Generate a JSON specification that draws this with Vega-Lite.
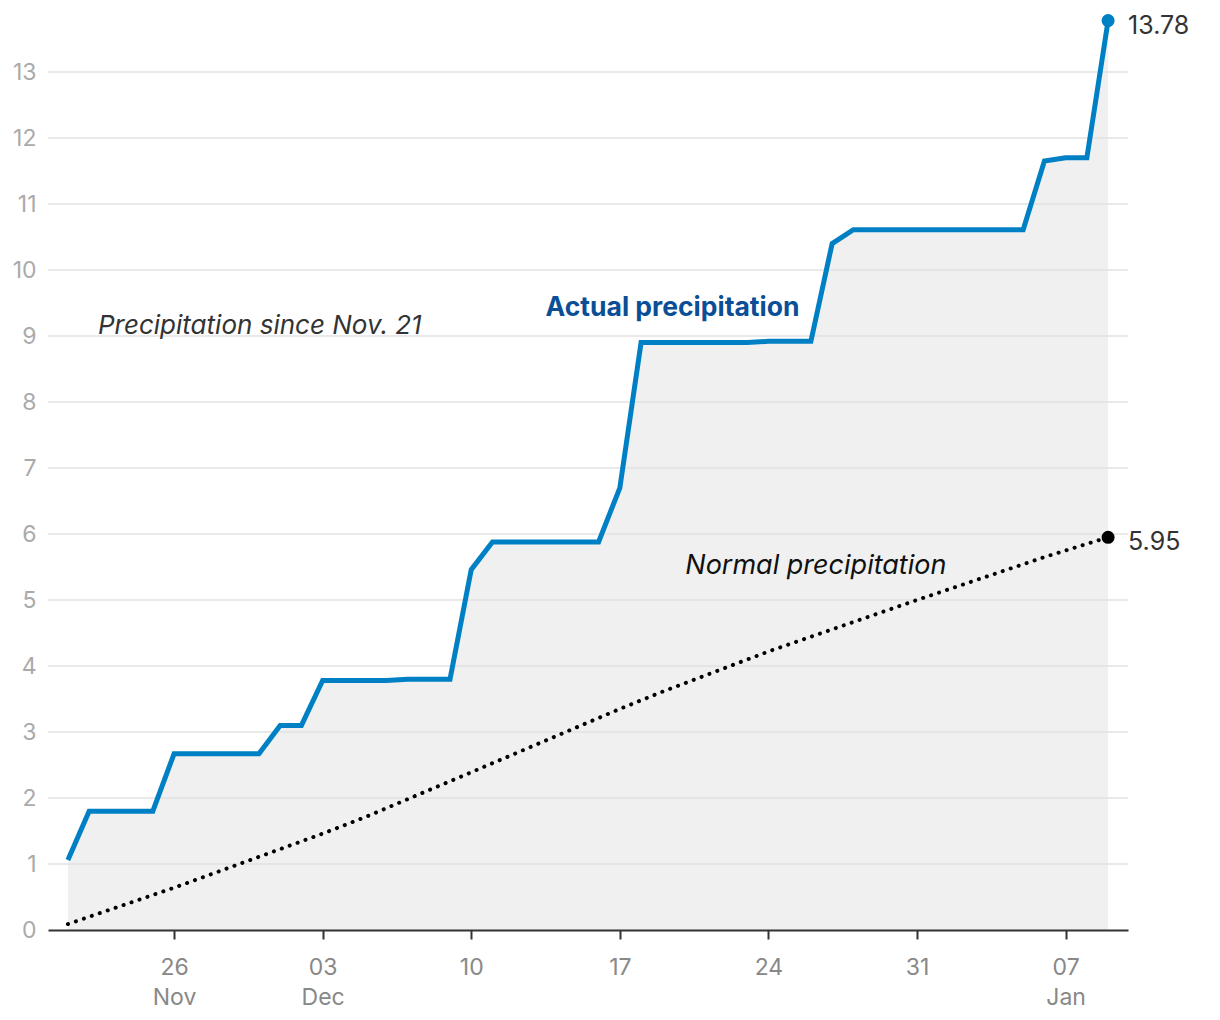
{
  "$schema": "https://vega.github.io/schema/vega-lite/v6.json",
  "width": 1080,
  "height": 924,
  "autosize": {"type": "none"},
  "padding": {"left": 48, "top": 6, "right": 92, "bottom": 90},
  "background": "#ffffff",
  "config": {
    "view": {"stroke": null},
    "font": "Inter",
    "axis": {"labelFont": "Inter", "grid": false}
  },
  "datasets": {
    "actual": [
      {"date": "2022-11-21", "value": 1.06},
      {"date": "2022-11-22", "value": 1.80},
      {"date": "2022-11-23", "value": 1.80},
      {"date": "2022-11-24", "value": 1.80},
      {"date": "2022-11-25", "value": 1.80},
      {"date": "2022-11-26", "value": 2.67},
      {"date": "2022-11-27", "value": 2.67},
      {"date": "2022-11-28", "value": 2.67},
      {"date": "2022-11-29", "value": 2.67},
      {"date": "2022-11-30", "value": 2.67},
      {"date": "2022-12-01", "value": 3.10},
      {"date": "2022-12-02", "value": 3.10},
      {"date": "2022-12-03", "value": 3.78},
      {"date": "2022-12-04", "value": 3.78},
      {"date": "2022-12-05", "value": 3.78},
      {"date": "2022-12-06", "value": 3.78},
      {"date": "2022-12-07", "value": 3.80},
      {"date": "2022-12-08", "value": 3.80},
      {"date": "2022-12-09", "value": 3.80},
      {"date": "2022-12-10", "value": 5.46},
      {"date": "2022-12-11", "value": 5.88},
      {"date": "2022-12-12", "value": 5.88},
      {"date": "2022-12-13", "value": 5.88},
      {"date": "2022-12-14", "value": 5.88},
      {"date": "2022-12-15", "value": 5.88},
      {"date": "2022-12-16", "value": 5.88},
      {"date": "2022-12-17", "value": 6.70},
      {"date": "2022-12-18", "value": 8.90},
      {"date": "2022-12-19", "value": 8.90},
      {"date": "2022-12-20", "value": 8.90},
      {"date": "2022-12-21", "value": 8.90},
      {"date": "2022-12-22", "value": 8.90},
      {"date": "2022-12-23", "value": 8.90},
      {"date": "2022-12-24", "value": 8.92},
      {"date": "2022-12-25", "value": 8.92},
      {"date": "2022-12-26", "value": 8.92},
      {"date": "2022-12-27", "value": 10.40},
      {"date": "2022-12-28", "value": 10.61},
      {"date": "2022-12-29", "value": 10.61},
      {"date": "2022-12-30", "value": 10.61},
      {"date": "2022-12-31", "value": 10.61},
      {"date": "2023-01-01", "value": 10.61},
      {"date": "2023-01-02", "value": 10.61},
      {"date": "2023-01-03", "value": 10.61},
      {"date": "2023-01-04", "value": 10.61},
      {"date": "2023-01-05", "value": 10.61},
      {"date": "2023-01-06", "value": 11.65},
      {"date": "2023-01-07", "value": 11.70},
      {"date": "2023-01-08", "value": 11.70},
      {"date": "2023-01-09", "value": 13.78}
    ],
    "normal": [
      {"date": "2022-11-21", "value": 0.09},
      {"date": "2022-11-26", "value": 0.64},
      {"date": "2022-12-03", "value": 1.46},
      {"date": "2022-12-05", "value": 1.71},
      {"date": "2022-12-10", "value": 2.39},
      {"date": "2022-12-17", "value": 3.35},
      {"date": "2022-12-19", "value": 3.61},
      {"date": "2022-12-24", "value": 4.22},
      {"date": "2022-12-31", "value": 5.00},
      {"date": "2023-01-06", "value": 5.65},
      {"date": "2023-01-07", "value": 5.75},
      {"date": "2023-01-09", "value": 5.95}
    ],
    "grid": [
      {"v": 1}, {"v": 2}, {"v": 3}, {"v": 4}, {"v": 5}, {"v": 6}, {"v": 7},
      {"v": 8}, {"v": 9}, {"v": 10}, {"v": 11}, {"v": 12}, {"v": 13}
    ],
    "endActual": [
      {"date": "2023-01-09", "value": 13.78, "label": "13.78"}
    ],
    "endNormal": [
      {"date": "2023-01-09", "value": 5.95, "label": "5.95"}
    ],
    "caption": [
      {"date": "2022-11-22T10:00:00Z", "value": 9.15, "label": "Precipitation since Nov. 21"}
    ],
    "normalNote": [
      {"date": "2022-12-20T02:00:00Z", "value": 5.51, "label": "Normal precipitation"}
    ],
    "actualNote": [
      {"date": "2022-12-13T12:00:00Z", "value": 9.42, "label": "Actual precipitation"}
    ]
  },
  "encoding": {
    "x": {
      "field": "date",
      "type": "temporal",
      "scale": {
        "type": "utc",
        "domain": [
          {"year": 2022, "month": 11, "date": 20, "hours": 1, "minutes": 30, "utc": true},
          {"year": 2023, "month": 1, "date": 9, "hours": 22, "minutes": 30, "utc": true}
        ]
      },
      "axis": {
        "title": null,
        "zindex": 1,
        "values": [
          {"year": 2022, "month": 11, "date": 26, "utc": true},
          {"year": 2022, "month": 12, "date": 3, "utc": true},
          {"year": 2022, "month": 12, "date": 10, "utc": true},
          {"year": 2022, "month": 12, "date": 17, "utc": true},
          {"year": 2022, "month": 12, "date": 24, "utc": true},
          {"year": 2022, "month": 12, "date": 31, "utc": true},
          {"year": 2023, "month": 1, "date": 7, "utc": true}
        ],
        "labelExpr": "utcdate(datum.value) <= 7 || (utcmonth(datum.value) == 10 && utcdate(datum.value) == 26) ? [utcFormat(datum.value, '%d'), utcFormat(datum.value, '%b')] : utcFormat(datum.value, '%d')",
        "domainColor": "#333333",
        "domainWidth": 2,
        "tickColor": "#333333",
        "tickWidth": 2,
        "tickSize": 9,
        "labelColor": "#888888",
        "labelFontSize": 23,
        "labelLineHeight": 30,
        "labelPadding": 17,
        "labelFlush": false,
        "labelOverlap": false
      }
    },
    "y": {
      "field": "value",
      "type": "quantitative",
      "scale": {"domain": [0, 14], "nice": false},
      "axis": {
        "title": null,
        "values": [0, 1, 2, 3, 4, 5, 6, 7, 8, 9, 10, 11, 12, 13],
        "domain": false,
        "ticks": false,
        "labelColor": "#aaaaaa",
        "labelFontSize": 23,
        "labelPadding": 12
      }
    }
  },
  "layer": [
    {
      "data": {"name": "actual"},
      "mark": {"type": "area", "color": "#f0f0f0"}
    },
    {
      "data": {"name": "grid"},
      "mark": {"type": "rule", "color": "#e2e2e2", "strokeWidth": 1.5},
      "encoding": {"x": null, "y": {"field": "v", "type": "quantitative"}}
    },
    {
      "data": {"name": "normal"},
      "mark": {"type": "line", "color": "#000000", "strokeWidth": 4, "strokeCap": "round", "strokeDash": [0.1, 8.3]}
    },
    {
      "data": {"name": "actual"},
      "mark": {"type": "line", "color": "#0080c4", "strokeWidth": 5}
    },
    {
      "data": {"name": "endActual"},
      "mark": {"type": "point", "filled": true, "opacity": 1, "size": 170, "color": "#0080c4"}
    },
    {
      "data": {"name": "endNormal"},
      "mark": {"type": "point", "filled": true, "opacity": 1, "size": 170, "color": "#000000"}
    },
    {
      "data": {"name": "endActual"},
      "mark": {"type": "text", "align": "left", "baseline": "middle", "dx": 20, "dy": 5, "fontSize": 25, "color": "#333333"},
      "encoding": {"text": {"field": "label"}}
    },
    {
      "data": {"name": "endNormal"},
      "mark": {"type": "text", "align": "left", "baseline": "middle", "dx": 20, "dy": 5, "fontSize": 25, "color": "#333333"},
      "encoding": {"text": {"field": "label"}}
    },
    {
      "data": {"name": "caption"},
      "mark": {"type": "text", "align": "left", "baseline": "middle", "fontSize": 26, "fontStyle": "italic", "color": "#333333"},
      "encoding": {"text": {"field": "label"}}
    },
    {
      "data": {"name": "normalNote"},
      "mark": {"type": "text", "align": "left", "baseline": "middle", "fontSize": 27, "fontStyle": "italic", "color": "#111111"},
      "encoding": {"text": {"field": "label"}}
    },
    {
      "data": {"name": "actualNote"},
      "mark": {"type": "text", "align": "left", "baseline": "middle", "fontSize": 26.5, "fontWeight": "bold", "color": "#0a4f96"},
      "encoding": {"text": {"field": "label"}}
    }
  ]
}
